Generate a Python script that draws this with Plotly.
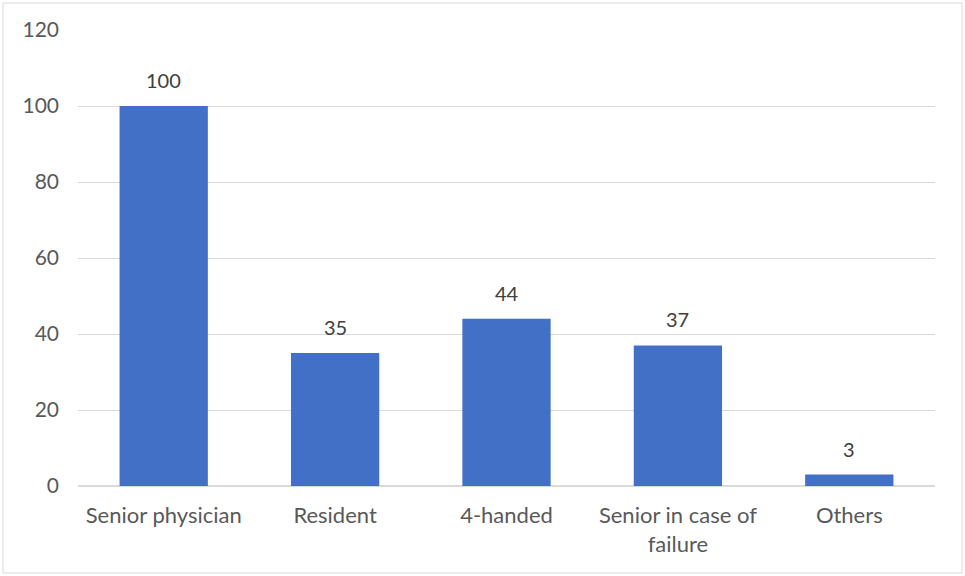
import plotly.graph_objects as go

categories = ["Senior physician", "Resident", "4-handed", "Senior in case of<br>failure", "Others"]
values = [100, 35, 44, 37, 3]
y_ticks = [0, 20, 40, 60, 80, 100, 120]

W, H = 965, 576
L, R, T, B = 78, 30, 30, 90
pw, ph = W - L - R, H - T - B
FONT = "Lato, sans-serif"

fig = go.Figure()
fig.add_trace(go.Bar(
    x=categories, y=values,
    marker=dict(color="#4170C6", line=dict(width=0)),
    cliponaxis=False, hoverinfo="skip",
))
for c, v in zip(categories, values):
    fig.add_annotation(x=c, y=v, text=str(v), showarrow=False, yanchor="bottom", yshift=12,
                       font=dict(family=FONT, size=20, color="#404040"))

fig.update_layout(
    width=W, height=H,
    margin=dict(l=L, r=R, t=T, b=B),
    paper_bgcolor="white", plot_bgcolor="white",
    bargap=0.485,
    showlegend=False,
    font=dict(family=FONT, size=20, color="#595959"),
    xaxis=dict(showgrid=False, showline=False, ticks="", tickfont=dict(size=22, color="#595959"),
               ticklabelstandoff=14),
    yaxis=dict(range=[0, 120], tickvals=y_ticks, showgrid=True, gridcolor="#D9D9D9", gridwidth=1,
               zeroline=True, zerolinecolor="#D9D9D9", zerolinewidth=2, showline=False,
               ticks="", tickfont=dict(size=21, color="#595959"), ticklabelstandoff=18),
    shapes=[dict(type="rect", xref="paper", yref="paper",
                 x0=(3 - L) / pw, x1=(962 - L) / pw,
                 y0=(H - B - 573) / ph, y1=(H - B - 3) / ph,
                 line=dict(color="#D9D9D9", width=1), fillcolor="rgba(0,0,0,0)", layer="below")],
)

fig.write_html("out.html", config={"displayModeBar": False},
               post_script="document.body.style.margin='0';document.body.style.overflow='hidden';")
